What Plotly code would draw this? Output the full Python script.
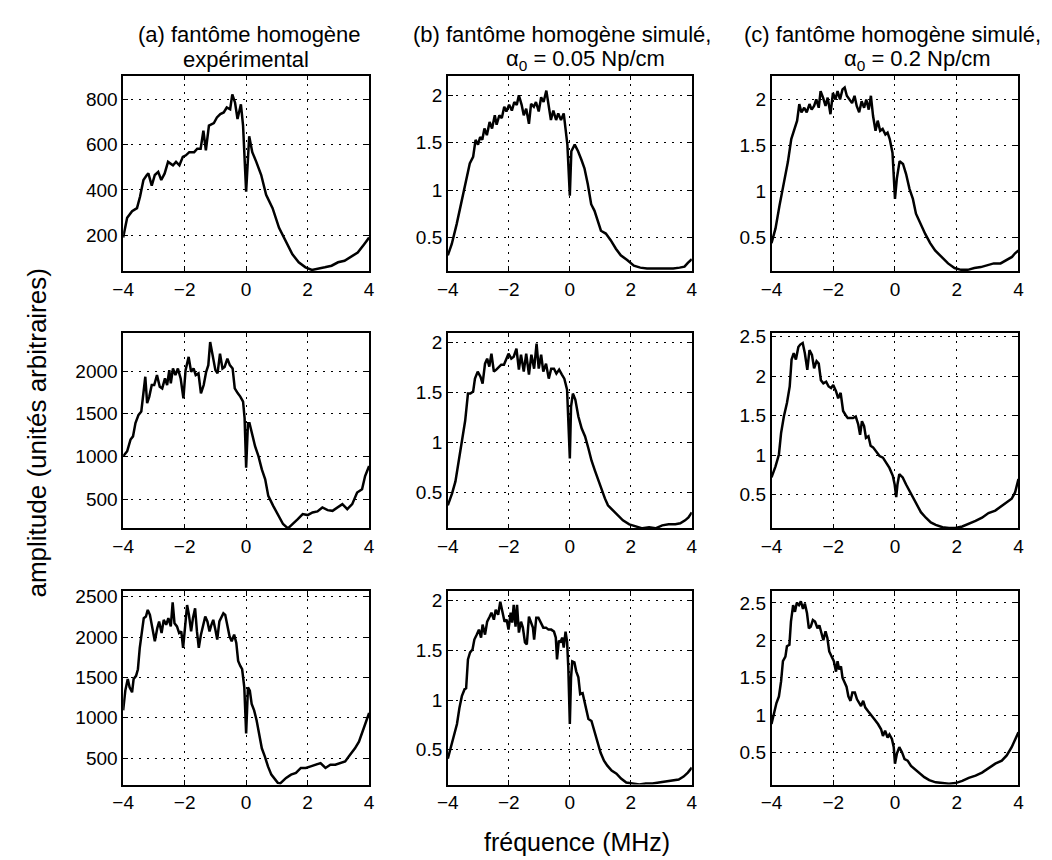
import plotly.graph_objects as go

FONT = "Liberation Sans, Arial, Helvetica, sans-serif"

# ---------------------------------------------------------------
# Column (a): experimental homogeneous phantom
# ---------------------------------------------------------------
freq_a1 = [-4.00, -3.87, -3.71, -3.55, -3.45, -3.34, -3.23, -3.18, -3.07, -2.97,
           -2.86, -2.76, -2.65, -2.54, -2.38, -2.28, -2.17, -2.06, -1.96, -1.85,
           -1.69, -1.59, -1.48, -1.39, -1.31, -1.21, -1.05, -0.95, -0.84, -0.73,
           -0.63, -0.52, -0.45, -0.36, -0.28, -0.17, -0.10, 0.00, 0.10, 0.20,
           0.33, 0.49, 0.65, 0.86, 1.07, 1.29, 1.50, 1.71, 1.93, 2.14,
           2.35, 2.56, 2.78, 2.99, 3.20, 3.41, 3.63, 3.84, 4.00]
amp_a1 = [190, 277, 306, 320, 371, 444, 466, 473, 419, 466,
          480, 444, 473, 524, 509, 524, 509, 546, 553, 567,
          567, 582, 582, 662, 575, 684, 695, 720, 735, 742,
          764, 756, 822, 785, 713, 778, 684, 393, 637, 567,
          524, 466, 379, 320, 233, 175, 117, 81, 59, 47,
          52, 59, 66, 81, 88, 105, 124, 161, 190]

freq_a2 = [-4.00, -3.87, -3.76, -3.68, -3.60, -3.50, -3.41, -3.34, -3.28, -3.22,
           -3.15, -3.07, -2.99, -2.90, -2.81, -2.73, -2.64, -2.57, -2.50, -2.45,
           -2.38, -2.30, -2.22, -2.13, -2.04, -1.97, -1.87, -1.79, -1.71, -1.64,
           -1.55, -1.47, -1.38, -1.30, -1.23, -1.17, -1.08, -1.00, -0.93, -0.85,
           -0.77, -0.70, -0.61, -0.53, -0.44, -0.37, -0.27, -0.19, -0.10, -0.05,
           0.00, 0.06, 0.11, 0.19, 0.29, 0.40, 0.51, 0.62, 0.72, 0.88,
           1.04, 1.20, 1.36, 1.52, 1.68, 1.84, 2.00, 2.16, 2.32, 2.48,
           2.65, 2.81, 2.97, 3.13, 3.29, 3.45, 3.61, 3.77, 3.87, 4.00]
amp_a2 = [1004, 1062, 1198, 1236, 1391, 1488, 1527, 1740, 1934, 1624,
          1702, 1837, 1837, 1953, 1818, 1798, 1915, 1837, 2012, 1857,
          2031, 1953, 2031, 1915, 1682, 2012, 2167, 1992, 2031, 1953,
          1973, 1740, 1837, 1992, 2070, 2341, 2167, 2012, 1973, 2205,
          2031, 2050, 2147, 2070, 2031, 1798, 1740, 1702, 1643, 1450,
          868, 1391, 1391, 1275, 1120, 1004, 849, 733, 539, 422,
          306, 209, 159, 209, 267, 326, 314, 345, 357, 403,
          372, 364, 403, 442, 384, 442, 578, 616, 771, 888]

freq_a3 = [-4.00, -3.93, -3.85, -3.79, -3.71, -3.66, -3.58, -3.52, -3.46, -3.39,
           -3.33, -3.26, -3.20, -3.13, -3.05, -2.97, -2.89, -2.83, -2.75, -2.68,
           -2.60, -2.53, -2.45, -2.39, -2.33, -2.25, -2.18, -2.11, -2.05, -1.98,
           -1.92, -1.86, -1.79, -1.73, -1.66, -1.60, -1.54, -1.47, -1.40, -1.33,
           -1.26, -1.19, -1.13, -1.07, -1.00, -0.94, -0.87, -0.81, -0.74, -0.68,
           -0.62, -0.54, -0.47, -0.39, -0.32, -0.26, -0.19, -0.13, -0.06, 0.00,
           0.06, 0.12, 0.18, 0.26, 0.34, 0.43, 0.51, 0.61, 0.71, 0.82,
           0.93, 1.03, 1.11, 1.19, 1.30, 1.46, 1.62, 1.78, 1.94, 2.10,
           2.26, 2.42, 2.58, 2.74, 2.90, 3.06, 3.22, 3.38, 3.54, 3.67,
           3.81, 3.92, 4.00]
amp_a3 = [1092, 1337, 1480, 1378, 1316, 1480, 1520, 1602, 1867, 2051,
          2235, 2255, 2337, 2276, 2092, 1949, 2112, 2194, 2051, 2214,
          2153, 2235, 2133, 2431, 2173, 2133, 2051, 2071, 1867, 2112,
          2398, 2276, 2071, 2235, 2357, 2071, 1867, 2031, 2153, 2255,
          2194, 2071, 2153, 2214, 2092, 1969, 2194, 2235, 2296, 2276,
          2173, 2010, 1949, 2031, 1929, 1704, 1643, 1602, 1378, 806,
          1378, 1337, 1173, 1092, 969, 786, 622, 520, 398, 296,
          235, 194, 186, 214, 255, 296, 316, 378, 378, 398,
          418, 439, 378, 418, 418, 439, 459, 541, 622, 704,
          847, 960, 1060]

# ---------------------------------------------------------------
# Column (b): simulated phantom, alpha0 = 0.05 Np/cm
# ---------------------------------------------------------------
freq_b1 = [-4.00, -3.87, -3.71, -3.55, -3.39, -3.28, -3.17, -3.09, -3.01, -2.94,
           -2.87, -2.80, -2.72, -2.63, -2.55, -2.46, -2.40, -2.31, -2.23, -2.15,
           -2.08, -1.99, -1.90, -1.82, -1.74, -1.67, -1.58, -1.51, -1.43, -1.34,
           -1.27, -1.18, -1.11, -1.02, -0.94, -0.86, -0.77, -0.70, -0.62, -0.54,
           -0.45, -0.38, -0.29, -0.20, -0.14, -0.08, 0.00, 0.05, 0.16, 0.27,
           0.38, 0.48, 0.59, 0.70, 0.81, 0.91, 1.02, 1.18, 1.34, 1.51,
           1.67, 1.88, 2.10, 2.31, 2.53, 2.74, 2.96, 3.17, 3.39, 3.60,
           3.76, 3.87, 4.00]
amp_b1 = [0.31, 0.43, 0.64, 0.88, 1.13, 1.28, 1.35, 1.53, 1.48, 1.56,
          1.53, 1.65, 1.58, 1.72, 1.65, 1.79, 1.69, 1.79, 1.76, 1.88,
          1.83, 1.90, 1.84, 1.93, 1.90, 2.00, 1.90, 1.79, 1.86, 1.70,
          1.91, 1.88, 1.93, 1.83, 1.98, 1.93, 2.05, 1.90, 1.74, 1.84,
          1.74, 1.81, 1.74, 1.81, 1.65, 1.48, 0.94, 1.41, 1.48, 1.41,
          1.32, 1.23, 1.06, 0.85, 0.78, 0.67, 0.57, 0.54, 0.47, 0.38,
          0.31, 0.26, 0.20, 0.18, 0.17, 0.17, 0.17, 0.17, 0.17, 0.18,
          0.19, 0.23, 0.27]

freq_b2 = [-4.00, -3.86, -3.75, -3.64, -3.54, -3.43, -3.34, -3.26, -3.17, -3.11,
           -3.02, -2.93, -2.86, -2.78, -2.71, -2.64, -2.57, -2.49, -2.41, -2.33,
           -2.25, -2.16, -2.07, -2.01, -1.92, -1.84, -1.75, -1.67, -1.60, -1.51,
           -1.43, -1.34, -1.26, -1.17, -1.09, -1.02, -0.94, -0.87, -0.78, -0.69,
           -0.61, -0.52, -0.44, -0.35, -0.26, -0.18, -0.09, -0.05, 0.00, 0.04,
           0.10, 0.18, 0.28, 0.39, 0.50, 0.61, 0.71, 0.82, 0.93, 1.04,
           1.15, 1.25, 1.41, 1.58, 1.74, 1.95, 2.17, 2.38, 2.60, 2.81,
           3.03, 3.24, 3.46, 3.62, 3.78, 3.89, 4.00]
amp_b2 = [0.37, 0.49, 0.61, 0.82, 1.01, 1.22, 1.49, 1.49, 1.51, 1.64,
          1.71, 1.66, 1.59, 1.79, 1.84, 1.76, 1.89, 1.71, 1.73, 1.76,
          1.78, 1.78, 1.84, 1.89, 1.84, 1.86, 1.94, 1.73, 1.88, 1.71,
          1.89, 1.68, 1.88, 1.74, 1.99, 1.74, 1.88, 1.71, 1.79, 1.64,
          1.74, 1.74, 1.69, 1.73, 1.68, 1.64, 1.53, 1.26, 0.84, 1.36,
          1.49, 1.43, 1.26, 1.14, 1.06, 0.94, 0.82, 0.72, 0.62, 0.54,
          0.44, 0.37, 0.32, 0.27, 0.22, 0.18, 0.16, 0.14, 0.15, 0.14,
          0.17, 0.18, 0.18, 0.19, 0.22, 0.25, 0.30]

freq_b3 = [-4.00, -3.88, -3.77, -3.70, -3.62, -3.54, -3.45, -3.40, -3.34, -3.27,
           -3.19, -3.13, -3.05, -2.98, -2.91, -2.86, -2.78, -2.71, -2.63, -2.57,
           -2.49, -2.43, -2.35, -2.28, -2.21, -2.14, -2.07, -2.01, -1.94, -1.89,
           -1.84, -1.78, -1.73, -1.67, -1.60, -1.54, -1.47, -1.41, -1.34, -1.28,
           -1.21, -1.17, -1.10, -1.03, -0.95, -0.87, -0.78, -0.70, -0.61, -0.52,
           -0.46, -0.42, -0.36, -0.31, -0.25, -0.20, -0.14, -0.09, -0.05, 0.00,
           0.04, 0.08, 0.15, 0.21, 0.28, 0.34, 0.42, 0.51, 0.61, 0.71,
           0.81, 0.90, 1.01, 1.12, 1.23, 1.37, 1.53, 1.68, 1.85, 2.06,
           2.28, 2.49, 2.71, 2.92, 3.14, 3.35, 3.57, 3.73, 3.87, 4.00]
amp_b3 = [0.41, 0.56, 0.67, 0.76, 0.92, 1.04, 1.11, 1.12, 1.41, 1.48,
          1.51, 1.61, 1.66, 1.71, 1.63, 1.76, 1.66, 1.79, 1.84, 1.88,
          1.81, 1.91, 1.86, 1.99, 1.89, 1.79, 1.81, 1.71, 1.88, 1.78,
          1.96, 1.74, 1.96, 1.68, 1.79, 1.73, 1.58, 1.56, 1.84, 1.79,
          1.73, 1.61, 1.83, 1.83, 1.78, 1.73, 1.73, 1.71, 1.71, 1.69,
          1.63, 1.41, 1.60, 1.58, 1.63, 1.53, 1.69, 1.59, 1.33, 0.76,
          1.23, 1.39, 1.38, 1.29, 1.23, 1.06, 1.07, 0.96, 0.81, 0.79,
          0.69, 0.59, 0.47, 0.39, 0.34, 0.29, 0.26, 0.21, 0.17, 0.16,
          0.15, 0.16, 0.16, 0.17, 0.18, 0.19, 0.20, 0.23, 0.27, 0.32]

# ---------------------------------------------------------------
# Column (c): simulated phantom, alpha0 = 0.2 Np/cm
# ---------------------------------------------------------------
freq_c1 = [-4.00, -3.87, -3.74, -3.60, -3.47, -3.36, -3.26, -3.17, -3.10, -3.03,
           -2.94, -2.86, -2.77, -2.70, -2.62, -2.55, -2.47, -2.41, -2.33, -2.25,
           -2.18, -2.09, -2.01, -1.93, -1.86, -1.78, -1.70, -1.63, -1.56, -1.48,
           -1.39, -1.31, -1.24, -1.16, -1.08, -1.00, -0.93, -0.85, -0.78, -0.71,
           -0.63, -0.56, -0.48, -0.40, -0.31, -0.24, -0.17, -0.08, 0.00, 0.06,
           0.15, 0.26, 0.36, 0.47, 0.58, 0.68, 0.82, 0.98, 1.14, 1.30,
           1.51, 1.72, 1.93, 2.14, 2.36, 2.57, 2.78, 2.99, 3.20, 3.42,
           3.63, 3.79, 3.89, 4.00]
amp_c1 = [0.44, 0.60, 0.85, 1.10, 1.32, 1.57, 1.69, 1.77, 1.95, 1.86,
          1.91, 1.86, 1.95, 1.89, 1.93, 2.00, 1.91, 2.09, 2.02, 1.93,
          2.02, 1.84, 2.07, 2.00, 2.09, 2.00, 2.11, 2.13, 2.04, 2.00,
          1.96, 2.04, 1.93, 1.86, 1.98, 1.91, 2.00, 1.89, 2.04, 1.82,
          1.66, 1.77, 1.66, 1.68, 1.62, 1.64, 1.57, 1.42, 0.92, 1.14,
          1.33, 1.30, 1.19, 1.03, 0.92, 0.76, 0.65, 0.54, 0.44, 0.36,
          0.29, 0.22, 0.17, 0.15, 0.15, 0.17, 0.18, 0.20, 0.22, 0.22,
          0.26, 0.29, 0.33, 0.36]

freq_c2 = [-4.00, -3.87, -3.76, -3.69, -3.60, -3.50, -3.41, -3.35, -3.28, -3.21,
           -3.13, -3.07, -2.99, -2.92, -2.84, -2.77, -2.69, -2.62, -2.54, -2.47,
           -2.40, -2.32, -2.23, -2.15, -2.07, -2.00, -1.91, -1.84, -1.76, -1.68,
           -1.60, -1.53, -1.44, -1.36, -1.27, -1.19, -1.13, -1.07, -1.00, -0.94,
           -0.86, -0.79, -0.71, -0.61, -0.50, -0.39, -0.28, -0.18, -0.07, -0.01,
           0.04, 0.08, 0.14, 0.25, 0.36, 0.52, 0.68, 0.84, 1.00, 1.16,
           1.32, 1.54, 1.75, 1.96, 2.18, 2.39, 2.61, 2.82, 3.03, 3.25,
           3.46, 3.62, 3.78, 3.89, 4.00]
amp_c2 = [0.72, 0.86, 1.01, 1.28, 1.49, 1.66, 1.87, 2.21, 2.29, 2.21,
          2.37, 2.40, 2.42, 2.29, 2.08, 2.33, 2.27, 2.10, 2.19, 2.16,
          1.95, 1.91, 1.93, 1.87, 1.85, 1.89, 1.81, 1.72, 1.79, 1.56,
          1.51, 1.47, 1.47, 1.47, 1.49, 1.39, 1.26, 1.43, 1.37, 1.22,
          1.24, 1.12, 1.10, 1.05, 0.99, 0.97, 0.91, 0.84, 0.74, 0.63,
          0.47, 0.63, 0.76, 0.72, 0.63, 0.51, 0.38, 0.28, 0.21, 0.15,
          0.12, 0.09, 0.08, 0.08, 0.10, 0.13, 0.17, 0.21, 0.27, 0.30,
          0.36, 0.40, 0.45, 0.53, 0.70]

freq_c3 = [-4.00, -3.93, -3.84, -3.76, -3.69, -3.63, -3.55, -3.50, -3.42, -3.37,
           -3.30, -3.24, -3.18, -3.11, -3.05, -2.98, -2.92, -2.85, -2.79, -2.73,
           -2.66, -2.59, -2.51, -2.45, -2.37, -2.32, -2.25, -2.19, -2.13, -2.05,
           -1.98, -1.91, -1.86, -1.81, -1.75, -1.70, -1.62, -1.57, -1.51, -1.44,
           -1.38, -1.30, -1.23, -1.16, -1.10, -1.03, -0.96, -0.87, -0.77, -0.66,
           -0.55, -0.45, -0.39, -0.32, -0.24, -0.18, -0.10, -0.04, 0.00, 0.06,
           0.14, 0.23, 0.31, 0.41, 0.52, 0.63, 0.79, 0.95, 1.11, 1.32,
           1.54, 1.75, 1.96, 2.18, 2.39, 2.61, 2.82, 3.03, 3.25, 3.46,
           3.62, 3.78, 3.89, 4.00]
amp_c3 = [0.88, 1.01, 1.16, 1.25, 1.45, 1.72, 1.78, 1.92, 1.94, 2.25,
          2.47, 2.38, 2.50, 2.47, 2.52, 2.42, 2.49, 2.36, 2.16, 2.18,
          2.27, 2.25, 2.16, 2.20, 2.09, 2.00, 2.12, 2.03, 1.85, 1.78,
          1.72, 1.58, 1.72, 1.61, 1.65, 1.50, 1.41, 1.38, 1.25, 1.19,
          1.30, 1.30, 1.21, 1.16, 1.12, 1.19, 1.10, 1.05, 0.99, 0.94,
          0.88, 0.81, 0.72, 0.79, 0.70, 0.74, 0.68, 0.57, 0.35, 0.48,
          0.57, 0.50, 0.41, 0.39, 0.32, 0.28, 0.23, 0.17, 0.13, 0.10,
          0.09, 0.08, 0.09, 0.12, 0.16, 0.19, 0.23, 0.29, 0.35, 0.39,
          0.46, 0.57, 0.66, 0.77]

# Tick values
freq_ticks = [-4, -2, 0, 2, 4]
ticks_a1 = [200, 400, 600, 800]
ticks_a2 = [500, 1000, 1500, 2000]
ticks_a3 = [500, 1000, 1500, 2000, 2500]
ticks_half_2 = [0.5, 1, 1.5, 2]
ticks_half_25 = [0.5, 1, 1.5, 2, 2.5]

# Column titles
titles_line1 = ["(a) fantôme homogène",
                "(b) fantôme homogène simulé,",
                "(c) fantôme homogène simulé,"]
titles_line2 = ["expérimental",
                "α<sub>0</sub> = 0.05 Np/cm",
                "α<sub>0</sub> = 0.2 Np/cm"]
xlabel = "fréquence (MHz)"
ylabel = "amplitude (unités arbitraires)"

# ---------------------------------------------------------------
# Layout geometry (pixels in a 1052 x 860 page)
# ---------------------------------------------------------------
W, H = 1052, 860
col_px = [(114, 364), (444, 692), (773, 1024)]
row_px = [(70, 267), (329, 526), (589, 784)]

panels = [
    # (freq, amp, yticks, yrange, row, col)
    (freq_a1, amp_a1, ticks_a1, [42, 905], 0, 0),
    (freq_b1, amp_b1, ticks_half_2, [0.143, 2.21], 0, 1),
    (freq_c1, amp_c1, ticks_half_2, [0.136, 2.26], 0, 2),
    (freq_a2, amp_a2, ticks_a2, [159, 2450], 1, 0),
    (freq_b2, amp_b2, ticks_half_2, [0.14, 2.10], 1, 1),
    (freq_c2, amp_c2, ticks_half_25, [0.076, 2.55], 1, 2),
    (freq_a3, amp_a3, ticks_a3, [173, 2573], 2, 0),
    (freq_b3, amp_b3, ticks_half_2, [0.15, 2.10], 2, 1),
    (freq_c3, amp_c3, ticks_half_25, [0.071, 2.66], 2, 2),
]


def fmt(v):
    return f"{v:g}".replace("-", "\u2212")


fig = go.Figure()
layout = dict(
    width=W, height=H,
    margin=dict(l=0, r=0, t=0, b=0),
    paper_bgcolor="white", plot_bgcolor="white",
    showlegend=False,
    font=dict(family=FONT, size=19, color="black"),
)

axis_common = dict(
    showline=True, linecolor="black", linewidth=1.5,
    mirror="ticks", ticks="inside", ticklen=5, tickwidth=1, tickcolor="black",
    showgrid=True, gridcolor="black", gridwidth=1.3, griddash="2px,6px",
    zeroline=False, tickfont=dict(family=FONT, size=19, color="black"),
)

for i, (fx, fy, yt, yr, r, c) in enumerate(panels, start=1):
    sfx = "" if i == 1 else str(i)
    x0, x1 = col_px[c]
    y0, y1 = row_px[r]
    fig.add_trace(go.Scatter(
        x=fx, y=fy, mode="lines",
        line=dict(color="black", width=2.5),
        xaxis="x" + sfx, yaxis="y" + sfx,
        hoverinfo="skip",
    ))
    layout["xaxis" + sfx] = dict(
        axis_common,
        domain=[x0 / W, x1 / W], anchor="y" + sfx,
        range=[-4, 4], tickmode="array",
        tickvals=freq_ticks, ticktext=[fmt(v) for v in freq_ticks],
    )
    layout["yaxis" + sfx] = dict(
        axis_common,
        domain=[1 - y1 / H, 1 - y0 / H], anchor="x" + sfx,
        range=yr, tickmode="array",
        tickvals=yt, ticktext=[fmt(v) for v in yt],
    )

annotations = []
title_x1 = [242, 560, 896]
title_x2 = [239, 584, 921]
for k in range(3):
    annotations.append(dict(
        text=titles_line1[k], x=title_x1[k] / W, y=1 - 29 / H,
        xref="paper", yref="paper", xanchor="center", yanchor="middle",
        showarrow=False, font=dict(family=FONT, size=22, color="black"),
    ))
    annotations.append(dict(
        text=titles_line2[k], x=title_x2[k] / W, y=1 - 54 / H,
        xref="paper", yref="paper", xanchor="center", yanchor="middle",
        showarrow=False, font=dict(family=FONT, size=22, color="black"),
    ))

annotations.append(dict(
    text=xlabel, x=575 / W, y=1 - 842 / H,
    xref="paper", yref="paper", xanchor="center", yanchor="middle",
    showarrow=False, font=dict(family=FONT, size=25, color="black"),
))
annotations.append(dict(
    text=ylabel, x=26 / W, y=1 - 430 / H, textangle=-90,
    xref="paper", yref="paper", xanchor="center", yanchor="middle",
    showarrow=False, font=dict(family=FONT, size=26, color="black"),
))
layout["annotations"] = annotations

fig.update_layout(**layout)
fig.write_html("out.html")
